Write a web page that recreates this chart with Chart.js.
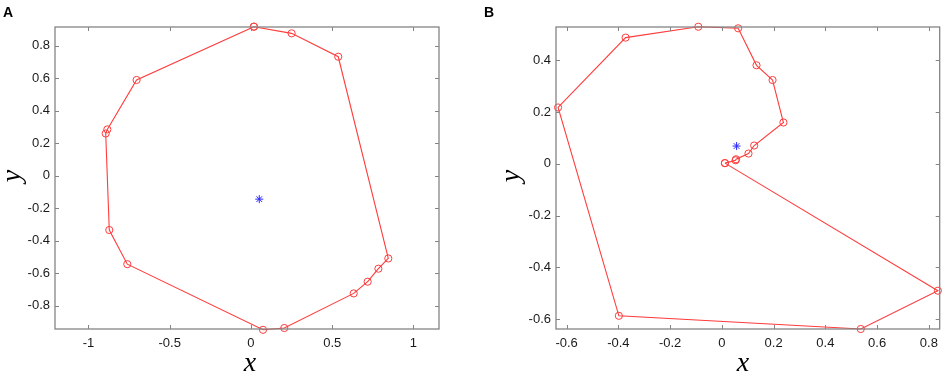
<!DOCTYPE html>
<html>
<head>
<meta charset="utf-8">
<script src="https://cdn.jsdelivr.net/npm/chart.js@4.4.1/dist/chart.umd.min.js"></script>
<style>
  body { margin: 0; background: #fff; }
  #wrap { position: relative; width: 945px; height: 376px; }
  canvas { position: absolute; top: 0; }
</style>
</head>
<body>
<div id="wrap">
  <canvas id="chartA" width="470" height="376" style="left:0"></canvas>
  <canvas id="chartB" width="475" height="376" style="left:470px"></canvas>
</div>
<script>
// panel A: red path and blue centre
const aX = [0.018, 0.25, 0.537, 0.845, 0.784, 0.718, 0.632, 0.205, 0.074, -0.761, -0.872, -0.894, -0.884, -0.704];
const aY = [0.917, 0.876, 0.732, -0.509, -0.572, -0.652, -0.724, -0.937, -0.948, -0.544, -0.334, 0.26, 0.285, 0.589];
const aCenter = [0.051, -0.144];
const aXTicks = [-1, -0.5, 0, 0.5, 1];
const aYTicks = [-0.8, -0.6, -0.4, -0.2, 0, 0.2, 0.4, 0.6, 0.8];

// panel B
const bX = [0.012, 0.053, 0.055, 0.103, 0.125, 0.238, 0.196, 0.134, 0.063, -0.091, -0.372, -0.633, -0.398, 0.537, 0.835];
const bY = [0.003, 0.014, 0.018, 0.040, 0.071, 0.160, 0.324, 0.381, 0.524, 0.530, 0.488, 0.218, -0.587, -0.638, -0.490];
const bCenter = [0.057, 0.069];
const bXTicks = [-0.6, -0.4, -0.2, 0, 0.2, 0.4, 0.6, 0.8];
const bYTicks = [-0.6, -0.4, -0.2, 0, 0.2, 0.4];

const RED = 'rgb(255, 60, 60)';
const tickFont = { family: 'Liberation Sans, Arial, sans-serif', size: 13 };

// frame with inward ticks on all four sides, plus the letter and axis titles
const framePlugin = {
  id: 'frame',
  afterDraw(chart, args, opts) {
    const ctx = chart.ctx;
    const a = chart.chartArea;
    const xs = chart.scales.x, ys = chart.scales.y;
    ctx.save();
    ctx.strokeStyle = '#858585';
    ctx.lineWidth = 1.3;
    ctx.strokeRect(a.left, a.top, a.right - a.left, a.bottom - a.top);
    ctx.lineWidth = 1;
    ctx.beginPath();
    xs.ticks.forEach(t => {
      const px = Math.round(xs.getPixelForValue(t.value)) + 0.5;
      ctx.moveTo(px, a.bottom); ctx.lineTo(px, a.bottom - 4);
      ctx.moveTo(px, a.top); ctx.lineTo(px, a.top + 4);
    });
    ys.ticks.forEach(t => {
      const py = Math.round(ys.getPixelForValue(t.value)) + 0.5;
      ctx.moveTo(a.left, py); ctx.lineTo(a.left + 4, py);
      ctx.moveTo(a.right, py); ctx.lineTo(a.right - 4, py);
    });
    ctx.stroke();

    ctx.fillStyle = '#000';
    ctx.font = 'bold 14px Liberation Sans, Arial, sans-serif';
    ctx.textAlign = 'left';
    ctx.textBaseline = 'alphabetic';
    ctx.fillText(opts.letter, opts.letterX, 17);

    ctx.font = 'italic 28px Liberation Serif, Times New Roman, serif';
    ctx.textAlign = 'center';
    ctx.fillText('x', opts.xTitleX, 371);
    ctx.save();
    ctx.translate(opts.yTitleX, 176);
    ctx.rotate(-Math.PI / 2);
    ctx.textBaseline = 'middle';
    ctx.fillText('y', 0, 0);
    ctx.restore();
    ctx.restore();
  }
};

function makeChart(id, xs, ys, center, xTicks, yTicks, xr, yr, axisW, padRight, plug) {
  const pts = xs.map((x, i) => ({ x: x, y: ys[i] }));
  pts.push(pts[0]);
  return new Chart(document.getElementById(id), {
    type: 'scatter',
    data: {
      datasets: [
        {
          data: pts,
          showLine: true,
          borderColor: RED,
          borderWidth: 1.1,
          pointStyle: 'circle',
          pointRadius: 3.6,
          pointBorderWidth: 1,
          pointBorderColor: RED,
          pointBackgroundColor: 'rgba(0,0,0,0)',
          clip: false
        },
        {
          data: [{ x: center[0], y: center[1] }],
          showLine: false,
          pointStyle: 'star',
          pointRadius: 4,
          pointBorderWidth: 1,
          pointBorderColor: 'rgb(40, 40, 255)',
          clip: false
        }
      ]
    },
    options: {
      responsive: false,
      animation: false,
      devicePixelRatio: 1,
      layout: { padding: { left: 0, top: 27, right: padRight, bottom: 0 } },
      plugins: { legend: { display: false }, tooltip: { enabled: false }, frame: plug },
      scales: {
        x: {
          type: 'linear', min: xr[0], max: xr[1],
          grid: { display: false, drawTicks: false },
          border: { display: false },
          ticks: { font: tickFont, color: '#1a1a1a', padding: 7, maxRotation: 0, callback: v => String(v) },
          afterBuildTicks: s => { s.ticks = xTicks.map(v => ({ value: v })); },
          afterFit: s => { s.height = 47; }
        },
        y: {
          type: 'linear', min: yr[0], max: yr[1],
          grid: { display: false, drawTicks: false },
          border: { display: false },
          ticks: { font: tickFont, color: '#1a1a1a', padding: 5, callback: v => String(v) },
          afterBuildTicks: s => { s.ticks = yTicks.map(v => ({ value: v })); },
          afterFit: s => { s.width = axisW; }
        }
      }
    },
    plugins: [framePlugin]
  });
}

makeChart('chartA', aX, aY, aCenter, aXTicks, aYTicks, [-1.206, 1.157], [-0.943, 0.915], 55, 31,
  { letter: 'A', letterX: 3, xTitleX: 250, yTitleX: 13 });
makeChart('chartB', bX, bY, bCenter, bXTicks, bYTicks, [-0.641, 0.842], [-0.638, 0.529], 86, 5,
  { letter: 'B', letterX: 14, xTitleX: 273, yTitleX: 42 });
</script>
</body>
</html>
